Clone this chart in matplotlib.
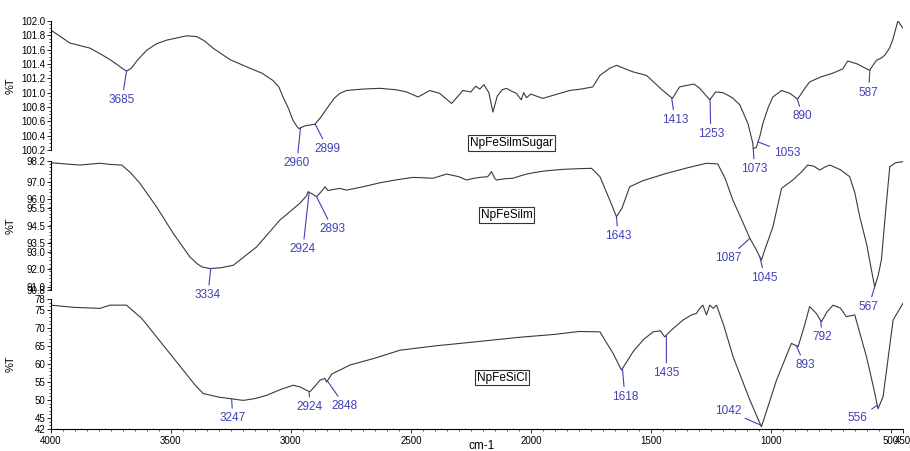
import numpy as np
import matplotlib.pyplot as plt
from matplotlib.ticker import MultipleLocator

plt.rcParams['font.family'] = ['Liberation Sans', 'DejaVu Sans']

# --- espectro NpFeSilmSugar (cm-1, %T) ---
wn_sugar = [4000, 3921, 3838, 3800, 3754, 3720, 3700, 3685, 3665, 3640, 3601, 3560, 3518,
            3435, 3393, 3360, 3325, 3254, 3171, 3120, 3075, 3050, 3033, 3010, 2992, 2975,
            2967, 2940, 2900, 2875, 2850, 2820, 2796, 2768, 2700, 2629, 2560, 2518, 2470,
            2421, 2380, 2330, 2283, 2250, 2230, 2213, 2195, 2175, 2158, 2140, 2120, 2101,
            2080, 2060, 2040, 2030, 2018, 2000, 1950, 1900, 1838, 1790, 1742, 1712, 1671,
            1643, 1575, 1518, 1450, 1410, 1380, 1351, 1320, 1296, 1254, 1230, 1199, 1160,
            1129, 1095, 1075, 1073, 1060, 1045, 1033, 1010, 991, 955, 920, 888, 860, 838,
            790, 742, 700, 679, 640, 600, 588, 560, 540, 525, 505, 492, 470, 450]
t_sugar = [101.87, 101.69, 101.62, 101.55, 101.46, 101.38, 101.33, 101.30, 101.34, 101.45,
           101.59, 101.68, 101.73, 101.79, 101.78, 101.72, 101.62, 101.46, 101.34, 101.27,
           101.17, 101.08, 100.94, 100.78, 100.62, 100.53, 100.50, 100.54, 100.56, 100.66,
           100.78, 100.92, 100.99, 101.03, 101.05, 101.06, 101.04, 101.01, 100.94, 101.03,
           100.99, 100.85, 101.03, 101.01, 101.09, 101.05, 101.11, 101.00, 100.73, 100.95,
           101.04, 101.06, 101.02, 100.99, 100.90, 101.00, 100.93, 100.98, 100.92, 100.97,
           101.03, 101.05, 101.08, 101.24, 101.34, 101.38, 101.29, 101.24, 101.03, 100.92,
           101.08, 101.10, 101.12, 101.06, 100.90, 101.01, 101.00, 100.93, 100.83, 100.57,
           100.30, 100.22, 100.24, 100.40, 100.57, 100.80, 100.94, 101.03, 100.99, 100.91,
           101.05, 101.15, 101.22, 101.27, 101.33, 101.44, 101.40, 101.33, 101.31, 101.45,
           101.48, 101.52, 101.62, 101.73, 102.00, 101.90]

# --- espectro NpFeSilm ---
wn_silm = [4000, 3930, 3879, 3830, 3796, 3750, 3705, 3670, 3629, 3560, 3490, 3421, 3390,
           3370, 3337, 3290, 3240, 3143, 3046, 2963, 2935, 2928, 2910, 2893, 2870, 2858,
           2845, 2837, 2796, 2768, 2700, 2629, 2560, 2491, 2450, 2408, 2351, 2300, 2268,
           2240, 2213, 2180, 2164, 2150, 2143, 2110, 2075, 2050, 2018, 1980, 1935, 1900,
           1867, 1800, 1747, 1712, 1671, 1643, 1620, 1588, 1533, 1435, 1350, 1268, 1221,
           1190, 1158, 1120, 1087, 1060, 1039, 1020, 991, 955, 908, 870, 846, 820, 796, 775,
           754, 710, 671, 650, 629, 600, 588, 567, 553, 539, 520, 504, 480, 450]
t_silm = [98.10, 98.02, 97.97, 98.03, 98.07, 98.00, 97.97, 97.55, 96.92, 95.57, 94.04,
          92.70, 92.30, 92.12, 92.03, 92.08, 92.22, 93.27, 94.81, 95.77, 96.20, 96.44,
          96.30, 96.15, 96.50, 96.72, 96.50, 96.53, 96.63, 96.53, 96.72, 96.95, 97.12,
          97.26, 97.24, 97.21, 97.45, 97.30, 97.11, 97.20, 97.26, 97.30, 97.59, 97.20,
          97.11, 97.18, 97.21, 97.32, 97.45, 97.55, 97.64, 97.68, 97.72, 97.76, 97.78,
          97.30, 95.96, 95.00, 95.50, 96.72, 97.07, 97.49, 97.80, 98.07, 98.03, 97.20,
          95.96, 94.80, 93.76, 93.10, 92.51, 93.30, 94.42, 96.63, 97.11, 97.60, 97.97,
          97.90, 97.68, 97.85, 97.97, 97.70, 97.30, 96.40, 95.00, 93.40, 92.51, 90.98,
          91.60, 92.51, 95.50, 97.87, 98.10, 98.16]

# --- espectro NpFeSiCl ---
wn_sicl = [4000, 3907, 3796, 3754, 3685, 3620, 3560, 3449, 3400, 3365, 3300, 3254, 3199,
           3150, 3101, 3040, 2990, 2960, 2935, 2921, 2900, 2879, 2858, 2851, 2830, 2796,
           2754, 2650, 2546, 2400, 2250, 2046, 1900, 1800, 1712, 1657, 1622, 1574, 1530,
           1490, 1460, 1442, 1414, 1365, 1330, 1310, 1296, 1283, 1268, 1254, 1240, 1226,
           1195, 1157, 1087, 1039, 1010, 976, 914, 886, 860, 838, 810, 789, 765, 740, 710,
           685, 650, 601, 570, 553, 532, 510, 490, 449]
t_sicl = [76.3, 75.7, 75.4, 76.3, 76.3, 72.5, 67.5, 58.3, 54.2, 51.8, 50.8, 50.4, 49.9,
          50.4, 51.3, 53.0, 54.1, 53.6, 52.7, 52.3, 53.8, 55.5, 56.0, 55.0, 57.2, 58.3,
          59.7, 61.6, 63.8, 65.0, 66.0, 67.4, 68.2, 69.0, 68.9, 62.9, 58.3, 63.4, 66.8,
          68.9, 69.2, 67.5, 69.4, 72.2, 73.6, 74.0, 75.4, 76.3, 73.6, 76.3, 75.4, 76.3,
          70.5, 62.0, 50.0, 42.6, 48.5, 55.5, 65.7, 64.8, 70.5, 75.9, 74.0, 71.7, 74.5,
          76.3, 75.5, 73.1, 73.6, 62.0, 53.0, 47.6, 50.9, 62.0, 72.2, 76.8]

# --- picos marcados: etiqueta, (x, y) del texto ---
picos_sugar = [(3685, 3704, 100.90), (2960, 2975, 100.02), (2899, 2846, 100.22),
               (1413, 1400, 100.62), (1253, 1250, 100.43), (1073, 1067, 99.94),
               (1053, 933, 100.16), (890, 867, 100.67), (587, 592, 101.00)]
picos_silm = [(3334, 3346, 90.50), (2924, 2950, 93.14), (2893, 2825, 94.29),
              (1643, 1637, 93.89), (1087, 1179, 92.63), (1045, 1025, 91.50),
              (567, 592, 89.83)]
picos_sicl = [(3247, 3242, 44.9), (2924, 2921, 48.0), (2848, 2775, 48.3),
              (1618, 1608, 50.9), (1435, 1435, 57.5), (1042, 1179, 47.0),
              (893, 858, 59.7), (792, 785, 67.4), (556, 637, 44.9)]

muestras = ['NpFeSilmSugar', 'NpFeSilm', 'NpFeSiCl']

azul = '#4040b8'
fig = plt.figure(figsize=(9.1, 4.51), dpi=100)

paneles = [
    dict(rect=[0.056, 0.667, 0.936, 0.287], wn=wn_sugar, t=t_sugar, picos=picos_sugar,
         ylim=(100.2, 102.0), yticks=list(np.round(np.arange(100.2, 102.01, 0.2), 1)),
         fmt='{:.1f}', caja=(2080, 100.3)),
    dict(rect=[0.056, 0.357, 0.936, 0.286], wn=wn_silm, t=t_silm, picos=picos_silm,
         ylim=(90.8, 98.2), yticks=[98.2, 97.0, 96.0, 95.5, 94.5, 93.5, 93.0, 92.0, 91.0, 90.8],
         fmt='{:.1f}', caja=(2100, 95.10)),
    dict(rect=[0.056, 0.049, 0.936, 0.288], wn=wn_sicl, t=t_sicl, picos=picos_sicl,
         ylim=(42, 78), yticks=[78, 75, 70, 65, 60, 55, 50, 45, 42],
         fmt='{:.0f}', caja=(2120, 56.2)),
]

for i, p in enumerate(paneles):
    ax = fig.add_axes(p['rect'])
    ax.patch.set_visible(False)  # que no tape las etiquetas del panel de arriba
    ax.plot(p['wn'], p['t'], color='#3a3a3a', lw=0.8)
    ax.set_xlim(4000, 450)
    ax.set_ylim(*p['ylim'])
    ax.set_yticks(p['yticks'])
    ax.set_yticklabels([p['fmt'].format(v) for v in p['yticks']])
    ax.tick_params(axis='y', labelsize=7, length=3, width=0.6, pad=1)
    ax.yaxis.set_minor_locator(MultipleLocator((p['ylim'][1] - p['ylim'][0]) / 36))
    ax.tick_params(axis='y', which='minor', length=1.5, width=0.5)
    for s in ['top', 'right']:
        ax.spines[s].set_visible(False)
    ax.spines['left'].set_linewidth(0.8)
    ax.set_ylabel('%T', fontsize=8)
    ax.yaxis.set_label_coords(-0.042, 0.5)

    if i < 2:
        ax.spines['bottom'].set_visible(False)
        ax.set_xticks([])
    else:
        ax.spines['bottom'].set_linewidth(0.8)
        ticks = [4000, 3500, 3000, 2500, 2000, 1500, 1000, 500, 450]
        ax.set_xticks(ticks)
        ax.set_xticklabels([str(t) for t in ticks])
        ax.xaxis.set_minor_locator(MultipleLocator(50))
        ax.tick_params(axis='x', labelsize=7, length=3, width=0.6, pad=2)
        ax.tick_params(axis='x', which='minor', length=1.5, width=0.5)

    # etiquetas de picos
    for etiqueta, xt, yt in p['picos']:
        y0 = np.interp(etiqueta, p['wn'][::-1], p['t'][::-1])
        ax.annotate(str(etiqueta), xy=(etiqueta, y0), xytext=(xt, yt),
                    ha='center', va='center', fontsize=8.5, color=azul,
                    arrowprops=dict(arrowstyle='-', color=azul, lw=0.8,
                                    shrinkA=1, shrinkB=0),
                    annotation_clip=False, zorder=5)

    ax.text(p['caja'][0], p['caja'][1], muestras[i], ha='center', va='center',
            fontsize=8.5, color='black',
            bbox=dict(boxstyle='square,pad=0.15', fc='white', ec='#333333', lw=0.8))

fig.text(0.529, 0.024, 'cm-1', ha='center', va='top', fontsize=8.5)

plt.savefig('out.png', dpi=100)
